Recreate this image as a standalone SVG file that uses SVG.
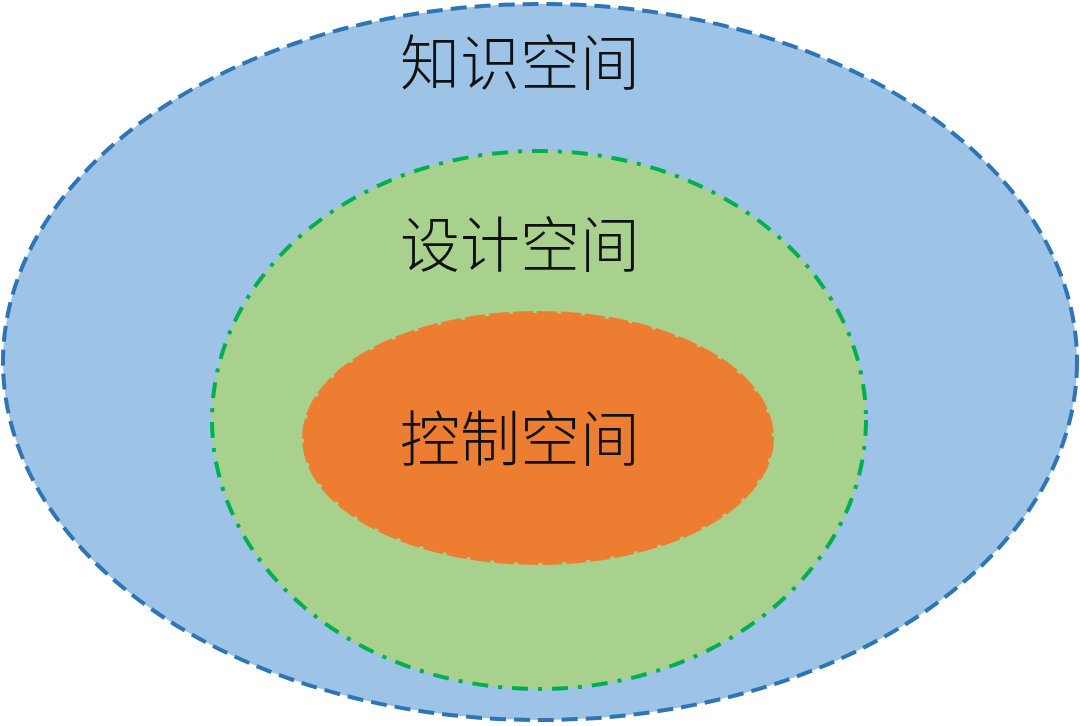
<svg xmlns="http://www.w3.org/2000/svg" width="1080" height="726" viewBox="0 0 1080 726">
<style>
.lbl{font-family:"Noto Sans CJK SC","Noto Sans CJK JP",sans-serif;font-size:60px;fill:#111;text-anchor:middle;font-weight:300}
</style>
<rect width="1080" height="726" fill="#ffffff"/>
<g id="knowledge">
<ellipse cx="540" cy="362" rx="537" ry="358" fill="#9DC3E6" stroke="#2E75B6" stroke-width="4" stroke-dasharray="16 8"/>
<text class="lbl" x="520" y="85">知识空间</text>
</g>
<g id="design">
<ellipse cx="539" cy="420" rx="327" ry="269" fill="#A9D18E" stroke="#00B050" stroke-width="4" stroke-dasharray="16 10 4 10"/>
<text class="lbl" x="520" y="267">设计空间</text>
</g>
<g id="control">
<ellipse cx="538" cy="438" rx="234" ry="125" fill="#ED7D31" stroke="#ED7D31" stroke-width="4" stroke-dasharray="20 4"/>
<text class="lbl" x="520" y="461">控制空间</text>
</g>
<g id="connectors"/>
</svg>
